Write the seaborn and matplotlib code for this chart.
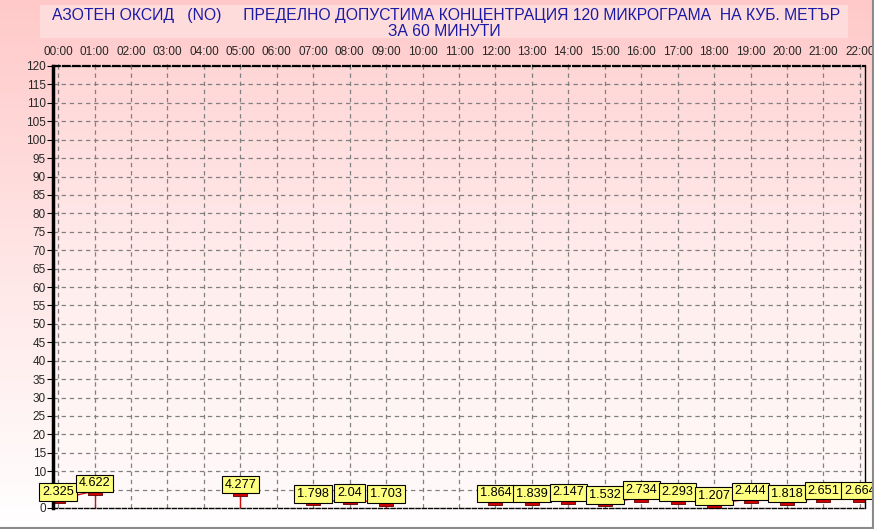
import numpy as np
import pandas as pd
import matplotlib
matplotlib.use("Agg")
import matplotlib.pyplot as plt
from matplotlib.colors import LinearSegmentedColormap
from matplotlib.patches import Rectangle
from matplotlib.lines import Line2D
import seaborn as sns

# ---- data ----
hour_labels = ["00:00", "01:00", "02:00", "03:00", "04:00", "05:00", "06:00", "07:00",
               "08:00", "09:00", "10:00", "11:00", "12:00", "13:00", "14:00", "15:00",
               "16:00", "17:00", "18:00", "19:00", "20:00", "21:00", "22:00"]
hours = [0, 1, 5, 7, 8, 9, 12, 13, 14, 15, 16, 17, 18, 19, 20, 21, 22]
values = [2.325, 4.622, 4.277, 1.798, 2.04, 1.703, 1.864, 1.839, 2.147, 1.532,
          2.734, 2.293, 1.207, 2.444, 1.818, 2.651, 2.664]
y_ticks = list(range(0, 125, 5))
title_line1 = "АЗОТЕН ОКСИД   (NO)     ПРЕДЕЛНО ДОПУСТИМА КОНЦЕНТРАЦИЯ 120 МИКРОГРАМА  НА КУБ. МЕТЪР"
title_line2 = "ЗА 60 МИНУТИ"

df = pd.DataFrame({"hour": hours, "value": values})

sns.set_style("white")
plt.rcParams["font.family"] = ["Liberation Sans", "DejaVu Sans"]

W, H = 874, 529
fig = plt.figure(figsize=(W / 100, H / 100), dpi=100)

# figure background gradient
bg = fig.add_axes([0, 0, 1, 1], zorder=-10)
bg.axis("off")
cmap_bg = LinearSegmentedColormap.from_list("bg", ["#ffc9c9", "#ffe6e6", "#ffffff"])
grad = np.linspace(0, 1, 256).reshape(-1, 1)
bg.imshow(grad, aspect="auto", cmap=cmap_bg, extent=[0, 1, 0, 1], origin="upper")
bg.set_xlim(0, 1)
bg.set_ylim(0, 1)

# title box
fig.patches.append(Rectangle((40 / W, 1 - 38 / H), (848 - 40) / W, 33 / H,
                             transform=fig.transFigure, facecolor="#ffdcdc",
                             edgecolor="none", zorder=-5))
fig.text(446 / W, 1 - 15.5 / H, title_line1, ha="center", va="center",
         fontsize=11.3, color="#1a1aa6")
fig.text(444 / W, 1 - 31.5 / H, title_line2, ha="center", va="center",
         fontsize=11.3, color="#1a1aa6")

# border lines (bottom and right)
fig.add_artist(Line2D([0, 1], [1.5 / H, 1.5 / H], transform=fig.transFigure,
                      color="#8a8a8a", lw=1.5))
fig.add_artist(Line2D([1 - 1.5 / W, 1 - 1.5 / W], [1.5 / H, 1], transform=fig.transFigure,
                      color="#8a8a8a", lw=1.5))

# main axes
x0, x1 = 53, 865
y0, y1 = 66, 508
ax = fig.add_axes([x0 / W, 1 - y1 / H, (x1 - x0) / W, (y1 - y0) / H])
ax.set_facecolor("none")
cmap_ax = LinearSegmentedColormap.from_list("ax", ["#ffd6d6", "#ffeeee", "#fffafa"])
ax.imshow(grad, aspect="auto", cmap=cmap_ax, extent=[-0.14, 22.14, 0, 120],
          origin="upper", zorder=0)

ax.set_xlim(-0.14, 22.14)
ax.set_ylim(0, 120)

# grid
for yt in y_ticks[1:]:
    ax.axhline(yt, color="#808080", lw=0.9, ls=(0, (3.5, 3)), zorder=1)
for xt in range(len(hour_labels)):
    ax.axvline(xt, color="#808080", lw=0.9, ls=(0, (3.5, 3)), zorder=1)

# line: connect consecutive hours, drop to zero before a gap
runs = []
cur = [0]
for i in range(1, len(hours)):
    if hours[i] == hours[i - 1] + 1:
        cur.append(i)
    else:
        runs.append(cur)
        cur = [i]
runs.append(cur)
for k, run in enumerate(runs):
    sub = df.iloc[run]
    if len(sub) > 1:
        sns.lineplot(data=sub, x="hour", y="value", ax=ax, color="#d01010",
                     lw=1, zorder=3, legend=False)
    if k < len(runs) - 1:
        last = sub.iloc[-1]
        ax.vlines(last["hour"], 0, last["value"], color="#d01010", lw=1, zorder=3)

rect_marker = [(-1, -0.55), (1, -0.55), (1, 0.55), (-1, 0.55), (-1, -0.55)]
sns.scatterplot(data=df, x="hour", y="value", ax=ax, marker=rect_marker, s=90,
                color="#d00000", edgecolor="#600000", linewidth=0.6, zorder=4,
                legend=False)

for h, v in zip(hours, values):
    ax.annotate(f"{v:g}", (h, v), xytext=(0, 5.5), textcoords="offset points",
                ha="center", va="center", fontsize=9.2, color="black", zorder=6,
                annotation_clip=False,
                bbox=dict(boxstyle="square,pad=0.22", facecolor="#ffff80",
                          edgecolor="black", lw=0.8))

# ticks
ax.set_yticks(y_ticks)
ax.set_yticklabels([str(t) for t in y_ticks], fontsize=8.5)
ax.set_xticks(range(len(hour_labels)))
ax.set_xticklabels(hour_labels, fontsize=8.5)
ax.xaxis.tick_top()
ax.tick_params(axis="x", which="both", length=3, direction="inout", pad=4,
               top=True, bottom=False, color="#555555")
ax.tick_params(axis="y", length=4, direction="out", pad=1, left=True, color="black")
ax.set_xlabel("")
ax.set_ylabel("")

# spines
ax.spines["left"].set_linewidth(2.5)
ax.spines["left"].set_color("black")
for s in ["top", "bottom"]:
    ax.spines[s].set_linewidth(1)
    ax.spines[s].set_color("black")
    ax.spines[s].set_linestyle((0, (3, 1.5)))
ax.spines["top"].set_linewidth(1.6)
ax.spines["right"].set_linewidth(1)
ax.spines["right"].set_color("black")
for s in ax.spines.values():
    s.set_visible(True)
    s.set_zorder(5)

fig.savefig("out.png", dpi=100)
